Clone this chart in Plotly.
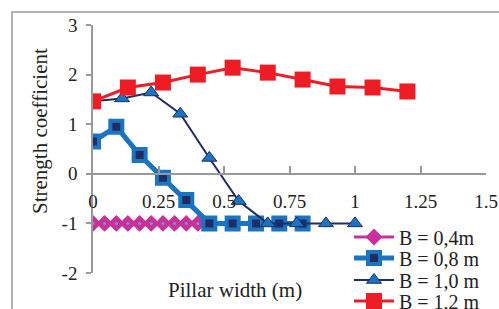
import plotly.graph_objects as go

# Data
x_b04 = [0, 0.044, 0.089, 0.133, 0.178, 0.222, 0.267, 0.311, 0.356, 0.4]
y_b04 = [-1, -1, -1, -1, -1, -1, -1, -1, -1, -1]

x_b08 = [0, 0.089, 0.178, 0.267, 0.356, 0.444, 0.533, 0.622, 0.711, 0.8]
y_b08 = [0.65, 0.95, 0.38, -0.08, -0.53, -1, -1, -1, -1, -1]

x_b10 = [0, 0.111, 0.222, 0.333, 0.444, 0.556, 0.667, 0.778, 0.889, 1.0]
y_b10 = [1.46, 1.52, 1.64, 1.21, 0.32, -0.55, -1, -1, -1, -1]

x_b12 = [0, 0.133, 0.267, 0.4, 0.533, 0.667, 0.8, 0.933, 1.067, 1.2]
y_b12 = [1.46, 1.74, 1.84, 2.0, 2.14, 2.04, 1.9, 1.76, 1.74, 1.66]

series_names = ["B = 0,4m", "B = 0,8 m", "B = 1,0 m", "B = 1,2 m"]
x_ticks = [0, 0.25, 0.5, 0.75, 1, 1.25, 1.5]
x_tick_text = ["0", "0.25", "0.5", "0.75", "1", "1.25", "1.5"]
y_ticks = [-2, -1, 0, 1, 2, 3]
y_tick_text = ["-2", "-1", "0", "1", "2", "3"]

FONT = "Liberation Serif"
TXT = "#222"

fig = go.Figure()
fig.add_trace(go.Scatter(
    x=x_b04, y=y_b04, name=series_names[0], mode="lines+markers", legend="legend",
    line=dict(color="#c8309a", width=3),
    marker=dict(symbol="diamond", size=13, color="#c8309a"),
))
fig.add_trace(go.Scatter(
    x=x_b04, y=y_b04, mode="markers", showlegend=False, hoverinfo="skip",
    marker=dict(symbol="circle", size=3, color="#6f9ad6"),
))
fig.add_trace(go.Scatter(
    x=x_b08, y=y_b08, name=series_names[1], mode="lines+markers", legend="legend2",
    line=dict(color="#1b74c2", width=5),
    marker=dict(symbol="square", size=12, color="#1f2d62",
                line=dict(color="#1b74c2", width=4)),
))
fig.add_trace(go.Scatter(
    x=x_b10, y=y_b10, name=series_names[2], mode="lines+markers", legend="legend3",
    line=dict(color="#1f2d62", width=2),
    marker=dict(symbol="triangle-up", size=13, color="#1b74c2",
                line=dict(color="#1f2d62", width=1)),
))
fig.add_trace(go.Scatter(
    x=x_b12, y=y_b12, name=series_names[3], mode="lines+markers", legend="legend4",
    line=dict(color="#ee1c24", width=3),
    marker=dict(symbol="square", size=16, color="#ee1c24"),
))

plot_l, plot_r, plot_t, plot_b = 93, 486, 25, 273
pw, ph = plot_r - plot_l, plot_b - plot_t


def px_x(px):
    return (px - plot_l) / pw


def px_y(py):
    return (plot_b - py) / ph


def legend_at(row_y):
    return dict(
        x=px_x(349), y=px_y(row_y), xanchor="left", yanchor="middle",
        bgcolor="rgba(0,0,0,0)", borderwidth=0,
        font=dict(family=FONT, size=20, color=TXT),
        itemwidth=40, tracegroupgap=0,
    )


fig.update_layout(
    width=499, height=309,
    margin=dict(l=plot_l, r=499 - plot_r, t=plot_t, b=309 - plot_b, autoexpand=False),
    paper_bgcolor="white", plot_bgcolor="white",
    font=dict(family=FONT, size=19, color=TXT),
    showlegend=True,
    legend=legend_at(237),
    legend2=legend_at(258),
    legend3=legend_at(280),
    legend4=legend_at(301),
    xaxis=dict(
        range=[0, 1.5], tickvals=x_ticks, ticktext=x_tick_text,
        anchor="free", position=0.4,
        showline=True, linecolor="#999", linewidth=1.5,
        ticks="inside", ticklen=7, tickcolor="#999", tickwidth=1.5,
        showgrid=False, zeroline=False,
        ticklabelstandoff=11,
        tickfont=dict(family=FONT, size=19, color=TXT),
    ),
    yaxis=dict(
        range=[-2, 3], tickvals=y_ticks, ticktext=y_tick_text,
        showline=True, linecolor="#999", linewidth=1.5,
        ticks="outside", ticklen=5, tickcolor="#999", tickwidth=1.5,
        showgrid=False, zeroline=False,
        ticklabelstandoff=5,
        tickfont=dict(family=FONT, size=19, color=TXT),
    ),
    annotations=[
        dict(text="Pillar width (m)", xref="paper", yref="paper",
             x=px_x(235), y=px_y(290), xanchor="center", yanchor="middle",
             showarrow=False, font=dict(family=FONT, size=21, color=TXT)),
        dict(text="Strength coefficient", textangle=-90, showarrow=False,
             xref="paper", yref="paper", x=px_x(40), y=px_y(131),
             xanchor="center", yanchor="middle",
             font=dict(family=FONT, size=21, color=TXT)),
    ],
)

# outer chart border (top and left visible)
bx, by = px_x(12), px_y(12)
fig.add_shape(type="path", xref="paper", yref="paper",
              path=f"M {bx},{px_y(320)} L {bx},{by} L {px_x(520)},{by}",
              line=dict(color="#999", width=1.5))

fig.write_html("out.html", config={"displayModeBar": False},
               post_script="document.body.style.margin='0';document.body.style.padding='0';")
